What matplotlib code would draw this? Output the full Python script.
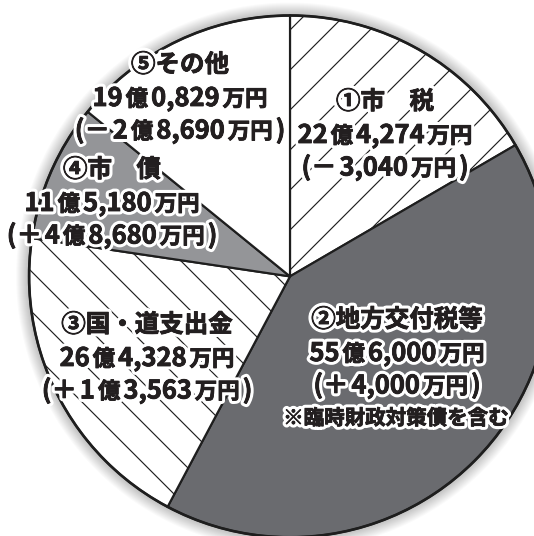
import re
import matplotlib
matplotlib.use("Agg")
import matplotlib.pyplot as plt
from matplotlib.patches import Circle
import matplotlib.patheffects as pe

# ---- data (万円) ----
names = ['①市　税', '②地方交付税等', '③国・道支出金', '④市　債', '⑤その他']
amounts = [224274, 556000, 264328, 115180, 190829]
changes = [-3040, 4000, 13563, 48680, -28690]
note = '※臨時財政対策債を含む'

colors = ['white', '#6a6b6f', 'white', '#949598', 'white']
hatches = ['/', '', '\\', '', '']


def fmt_amount(v):
    oku, man = divmod(abs(v), 10000)
    s = f"{man:04d}"
    s = s[0] + ',' + s[1:]
    if oku:
        return f"{oku}億{s}万円"
    return f"{s}万円"


def fmt_change(v):
    sign = '＋' if v > 0 else '－'
    return f"({sign}{fmt_amount(v)})"


DPI = 120
W, H = 534, 536
plt.rcParams['font.family'] = ['Noto Sans CJK JP', 'DejaVu Sans']
plt.rcParams['hatch.linewidth'] = 0.7

fig = plt.figure(figsize=(W / DPI, H / DPI), dpi=DPI)
ax = fig.add_axes([0, 0, 1, 1])

cx, cy, R = 290, H - 276.4, 260.9

# soft glow around the circle
for k in range(1, 14):
    ax.add_patch(Circle((cx, cy), R + k, color='black', alpha=0.018, lw=0, zorder=0))

wedges, _ = ax.pie(amounts, startangle=90, counterclock=False, center=(cx, cy),
                   radius=R, colors=colors, hatch=hatches,
                   wedgeprops=dict(edgecolor='#1e1e1e', linewidth=1.3))
for w in wedges:
    w.set_zorder(2)
ax.add_patch(Circle((cx, cy), R, fill=False, edgecolor='#1e1e1e', lw=1.6, zorder=3))

ax.set_xlim(0, W)
ax.set_ylim(0, H)
ax.set_aspect('equal')
ax.axis('off')

tc = '#231f20'
halo = [pe.withStroke(linewidth=4.2, foreground='white'),
        pe.withStroke(linewidth=0.5, foreground=tc)]
PX = 72 / DPI
renderer = fig.canvas.get_renderer()

BIG, UNIT, TITLE = 25.5, 22.5, 24.5
GAP = 3.0


def piece_size(s):
    if re.fullmatch(r'[億万円]+', s):
        return UNIT
    return BIG


def draw_line(xc, yc, text):
    runs = re.findall(r'[0-9,]+|[億万円]+|[^0-9,億万円]+', text)
    objs = []
    total = 0
    for r in runs:
        t = ax.text(0, H - (yc + 8.5), r, ha='left', va='baseline',
                    fontsize=piece_size(r) * PX, fontweight='bold', color=tc,
                    path_effects=halo, zorder=5)
        w = t.get_window_extent(renderer).width
        objs.append((t, w))
        total += w
    total += GAP * (len(runs) - 1)
    x = xc - total / 2
    for t, w in objs:
        t.set_x(x)
        x += w + GAP


# label layout: (x center, y of first line in px from top)
layout = [(385, 102), (397, 320), (147, 325), (112, 170), (180, 65)]
line_h = 32.5

for i, (x, y0) in enumerate(layout):
    ax.text(x, H - y0, names[i], ha='center', va='center',
            fontsize=TITLE * PX, fontweight='bold', color=tc,
            path_effects=halo, zorder=5)
    draw_line(x, y0 + line_h, fmt_amount(amounts[i]))
    draw_line(x, y0 + 2 * line_h, fmt_change(changes[i]))

ax.text(396, H - 418, note, ha='center', va='center',
        fontsize=20.5 * PX, fontweight='bold', color=tc,
        path_effects=halo, zorder=5)

fig.savefig('out.png', dpi=DPI)
